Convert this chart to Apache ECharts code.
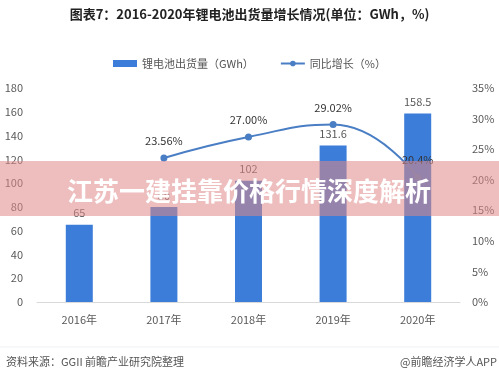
<!DOCTYPE html>
<html lang="zh">
<head>
<meta charset="utf-8">
<title>锂电池出货量</title>
<style>
  html, body { margin: 0; padding: 0; background: #fff; }
  #chart { width: 499px; height: 378px; }
</style>
</head>
<body>
<div id="chart"></div>
<script src="https://cdn.jsdelivr.net/npm/echarts@6/dist/echarts.min.js"></script>
<script>
// 年份
var years = ['2016年', '2017年', '2018年', '2019年', '2020年'];
// 出货量 GWh
var shipments = [65, 80, 102, 131.6, 158.5];
// 同比增长 %（2016年无数据）
var growth = [null, 23.56, 27.00, 29.02, 20.4];
var growthLabels = ['', '23.56%', '27.00%', '29.02%', '20.4%'];

var font = '"Noto Sans CJK SC", "Microsoft YaHei", sans-serif';
var myChart = echarts.init(document.getElementById('chart'));

var option = {
    backgroundColor: '#fff',
    animation: false,
    textStyle: { fontFamily: font },
    title: {
        text: '图表7：2016-2020年锂电池出货量增长情况(单位：GWh，%)',
        left: 'center',
        top: 3,
        textStyle: { fontSize: 13, fontWeight: 'bold', color: '#222', fontFamily: font }
    },
    legend: {
        top: 53,
        left: 'center',
        itemGap: 26,
        itemWidth: 24,
        itemHeight: 7,
        textStyle: { fontSize: 11, color: '#555', fontFamily: font },
        data: [
            { name: '锂电池出货量（GWh）', icon: 'rect' },
            { name: '同比增长（%）' }
        ]
    },
    grid: { left: 37, right: 39, top: 88, bottom: 76 },
    xAxis: {
        type: 'category',
        data: years,
        axisLine: { lineStyle: { color: '#d9d9d9' } },
        axisTick: { show: false },
        axisLabel: { color: '#595959', fontSize: 11, margin: 12 }
    },
    yAxis: [{
        type: 'value',
        min: 0,
        max: 180,
        interval: 20,
        splitLine: { show: false },
        axisLine: { show: false },
        axisTick: { show: false },
        axisLabel: { color: '#595959', fontSize: 11, margin: 14 }
    }, {
        type: 'value',
        min: 0,
        max: 35,
        interval: 5,
        splitLine: { show: false },
        axisLine: { show: false },
        axisTick: { show: false },
        axisLabel: { color: '#595959', fontSize: 11, formatter: '{value}%', margin: 12 }
    }],
    series: [{
        name: '锂电池出货量（GWh）',
        type: 'bar',
        data: shipments,
        barWidth: 27,
        itemStyle: { color: '#3b7dd8' },
        label: { show: true, position: 'top', color: '#595959', fontSize: 11, distance: 6 }
    }, {
        name: '同比增长（%）',
        type: 'line',
        yAxisIndex: 1,
        data: growth,
        smooth: true,
        symbol: 'circle',
        symbolSize: 7,
        itemStyle: { color: '#4a7ec4' },
        lineStyle: { color: '#4a7ec4', width: 2 },
        label: {
            show: true,
            position: 'top',
            color: '#333',
            fontSize: 11,
            distance: 8,
            formatter: function (p) { return growthLabels[p.dataIndex]; }
        },
        z: 3
    }],
    graphic: [
        // 浮层横幅
        {
            type: 'rect',
            shape: { x: 0, y: 161, width: 499, height: 55 },
            style: { fill: 'rgba(224,137,137,0.55)' },
            z: 100
        },
        {
            type: 'text',
            x: 249,
            y: 191,
            style: {
                text: '江苏一建挂靠价格行情深度解析',
                fill: '#fff',
                font: 'bold 26px ' + font,
                align: 'center',
                verticalAlign: 'middle'
            },
            z: 101
        },
        // 底部分隔线
        {
            type: 'line',
            shape: { x1: 0, y1: 347, x2: 499, y2: 347 },
            style: { stroke: '#eef1f5', lineWidth: 1 }
        },
        {
            type: 'text',
            x: 6,
            y: 362,
            style: {
                text: '资料来源：GGII 前瞻产业研究院整理',
                fill: '#555',
                font: '11px ' + font,
                verticalAlign: 'middle'
            }
        },
        {
            type: 'text',
            x: 497,
            y: 362,
            style: {
                text: '@前瞻经济学人APP',
                fill: '#555',
                font: '11px ' + font,
                align: 'right',
                verticalAlign: 'middle'
            }
        }
    ]
};
myChart.setOption(option);
</script>
</body>
</html>
